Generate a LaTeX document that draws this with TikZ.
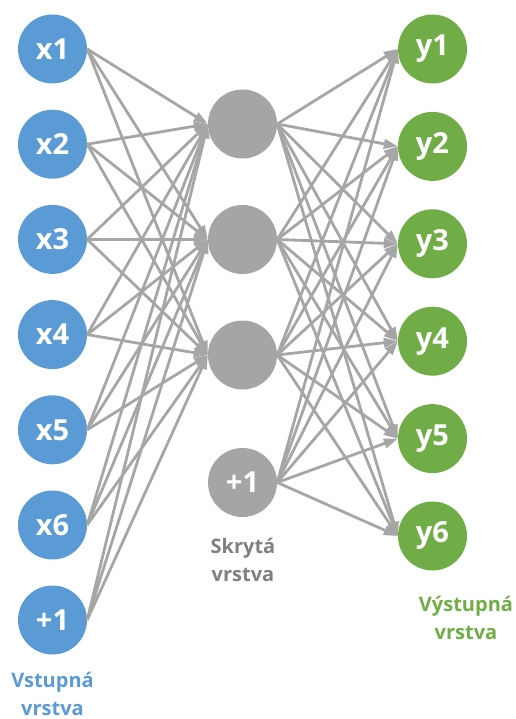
\documentclass[tikz,border=0pt]{standalone}
\usepackage{fontspec}
\setmainfont{Open Sans}
\usetikzlibrary{arrows.meta}
\definecolor{inblue}{HTML}{5B9BD5}
\definecolor{outgreen}{HTML}{70AD47}
\definecolor{hidgrey}{HTML}{A5A5A5}
\definecolor{edgegrey}{HTML}{A6A6A6}
\definecolor{labgrey}{HTML}{808080}
\tikzset{
  neuron/.style={circle, minimum size=69pt, inner sep=0pt, text=white,
    font=\bfseries\fontsize{29}{29}\selectfont},
  innode/.style={neuron, fill=inblue},
  hidnode/.style={neuron, fill=hidgrey},
  outnode/.style={neuron, fill=outgreen},
  layerlabel/.style={align=center, anchor=base,
    font=\bfseries\fontsize{20}{28}\selectfont},
  link/.style={draw=edgegrey, line width=2.8pt,
    -{Triangle[length=14pt,width=9.5pt]}}
}
\begin{document}
\begin{tikzpicture}[x=1pt,y=-1pt]
  \useasboundingbox (0,0) rectangle (515,719);

  % input layer
  \foreach \i in {1,...,6}
    \node[innode] (x\i) at (52.5, {49+95.2*(\i-1)}) {x\i};
  \node[innode] (xb) at (52.5, 620) {+1};

  % hidden layer
  \foreach \i in {1,2,3}
    \node[hidnode] (h\i) at (242.5, {124+115.5*(\i-1)}) {};
  \node[hidnode] (hb) at (242.5, 482.5) {+1};

  % output layer
  \foreach \i in {1,...,6}
    \node[outnode] (y\i) at (432.5, {49+97.4*(\i-1)}) {y\i};

  % inputs to hidden units
  \foreach \s in {x1,x2,x3,x4,x5,x6,xb}
    \foreach \t in {h1,h2,h3}
      \draw[link] (\s.east) -- (\t.west);
  % hidden units to outputs
  \foreach \s in {h1,h2,h3,hb}
    \foreach \t in {y1,y2,y3,y4,y5,y6}
      \draw[link] (\s.east) -- (\t.west);

  % layer captions (anchored on the baseline of the last line)
  \node[layerlabel, text=inblue] (lin) at (52.5, 715) {Vstupná\\vrstva};
  \node[layerlabel, text=labgrey] (lhid) at (243, 581) {Skrytá\\vrstva};
  \node[layerlabel, text=outgreen] (lout) at (466, 639) {Výstupná\\vrstva};
\end{tikzpicture}
\end{document}
